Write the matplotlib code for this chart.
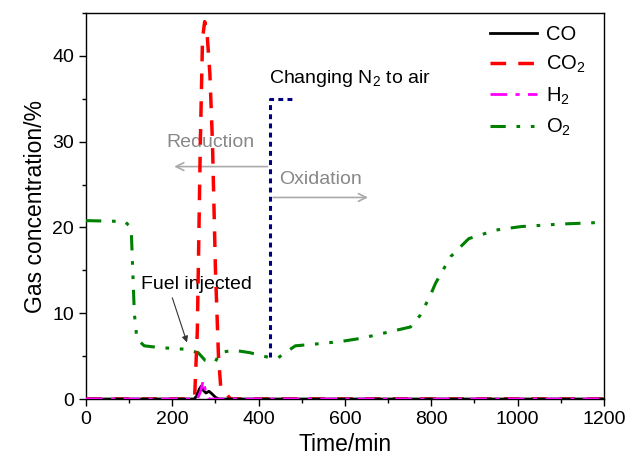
import matplotlib
matplotlib.use("Agg")
import matplotlib.pyplot as plt
from matplotlib.ticker import MultipleLocator

plt.rcParams['font.family'] = ['Liberation Sans', 'DejaVu Sans']
plt.rcParams['mathtext.fontset'] = 'custom'
plt.rcParams['mathtext.rm'] = 'Liberation Sans'
plt.rcParams['mathtext.default'] = 'regular'

# Data (time in min, concentration in %)
co_t = [0, 250, 256, 262, 267, 272, 278, 285, 292, 300, 308, 1200]
co_v = [0, 0, 0.3, 1.1, 1.5, 1.0, 0.7, 0.9, 0.6, 0.2, 0, 0]

co2_t = [0, 245, 252, 258, 265, 270, 275, 280, 287, 293, 300, 307, 312, 320, 335, 345, 1200]
co2_v = [0, 0, 0.5, 8, 30, 42, 44, 43, 38, 30, 15, 5, 1.5, 0.9, 0, 0, 0]

h2_t = [0, 258, 265, 272, 278, 285, 1200]
h2_v = [0, 0, 0.8, 2.2, 0.6, 0, 0]

o2_t = [0, 90, 100, 105, 112, 118, 135, 170, 230, 260, 276, 299, 311, 341, 380, 410, 430,
        445, 465, 485, 530, 590, 640, 683, 752, 775, 798, 810, 845, 887, 950, 1007, 1100, 1200]
o2_v = [20.8, 20.7, 20.2, 19.5, 10, 7, 6.2, 6.0, 5.8, 5.4, 4.5, 4.3, 5.4, 5.7, 5.4, 5.0, 4.8,
        4.8, 5.5, 6.2, 6.4, 6.7, 7.1, 7.6, 8.4, 9.8, 12.1, 13.5, 16.6, 18.7, 19.7, 20.1, 20.4, 20.6]

switch_t = [427, 427, 485]
switch_v = [4.9, 35, 35]

fig = plt.figure(figsize=(6.3, 4.67), dpi=100)
ax = fig.add_axes([0.1365, 0.1456, 0.822, 0.8264])

ax.plot(co_t, co_v, color='black', lw=2, label='CO', zorder=5)
ax.plot(co2_t, co2_v, color='red', lw=2.5, linestyle=(0, (4.5, 3.5)), label='CO$_2$', zorder=4)
ax.plot(h2_t, h2_v, color='magenta', lw=2, linestyle=(0, (6, 3, 1.5, 3)), label='H$_2$', zorder=6)
ax.plot(o2_t, o2_v, color='green', lw=2.2, linestyle=(0, (5, 3.5, 1.2, 3.5, 1.2, 3.5)), label='O$_2$', zorder=3)
ax.plot(switch_t, switch_v, color='#000080', lw=2.2, linestyle=(0, (1.6, 1.4)), zorder=3)

ax.set_xlim(0, 1200)
ax.set_ylim(0, 45)
ax.xaxis.set_major_locator(MultipleLocator(200))
ax.xaxis.set_minor_locator(MultipleLocator(100))
ax.yaxis.set_major_locator(MultipleLocator(10))
ax.yaxis.set_minor_locator(MultipleLocator(5))
ax.tick_params(which='major', direction='out', length=5, width=1, labelsize=14)
ax.tick_params(which='minor', direction='out', length=3, width=1)
ax.tick_params(top=False, right=False)
for s in ax.spines.values():
    s.set_linewidth(1)

ax.set_xlabel('Time/min', fontsize=16.5, labelpad=4)
ax.set_ylabel('Gas concentration/%', fontsize=16.5, labelpad=4)

leg = ax.legend(loc='upper right', frameon=False, fontsize=14.5, handlelength=2.35,
                handletextpad=0.45, labelspacing=0.5, borderaxespad=0.0,
                bbox_to_anchor=(0.98, 0.99))

ax.text(425, 37.4, 'Changing N$_2$ to air', fontsize=14, ha='left', va='center', color='black')

ax.annotate('', xy=(198, 27.1), xytext=(427, 27.1),
            arrowprops=dict(arrowstyle='->', color='#aaaaaa', lw=1.2, mutation_scale=14))
ax.text(288, 29.9, 'Reduction', fontsize=14, ha='center', va='center', color='#888888')

ax.annotate('', xy=(660, 23.5), xytext=(427, 23.5),
            arrowprops=dict(arrowstyle='->', color='#aaaaaa', lw=1.2, mutation_scale=14))
ax.text(543, 25.6, 'Oxidation', fontsize=14, ha='center', va='center', color='#888888')

ax.text(255, 13.3, 'Fuel injected', fontsize=14, ha='center', va='center', color='black')
ax.annotate('', xy=(234, 6.6), xytext=(200, 11.8),
            arrowprops=dict(arrowstyle='-|>', color='#333333', lw=0.8, mutation_scale=9,
                            shrinkA=0, shrinkB=0))

fig.savefig('out.png', dpi=100)
